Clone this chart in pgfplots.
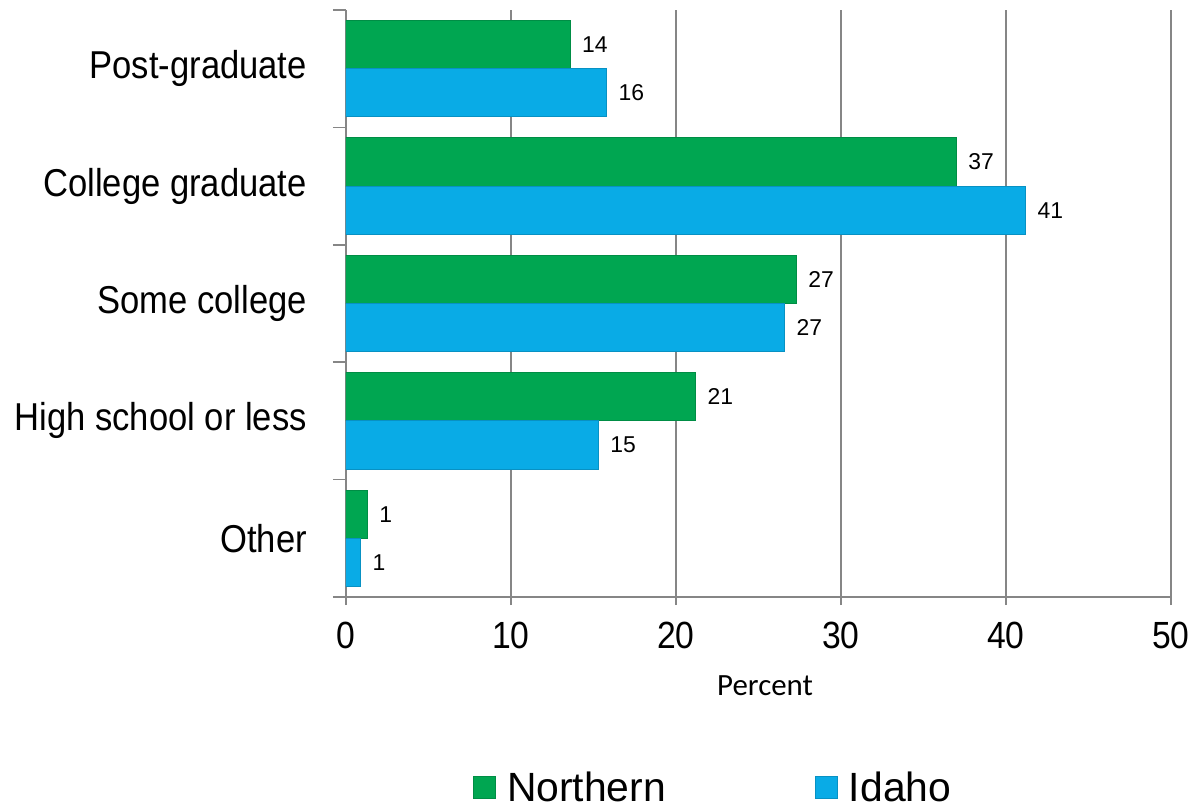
\documentclass[border=0pt]{standalone}
\usepackage{fontspec}
\setmainfont{Liberation Sans}
\newfontfamily\narrowsans[FakeStretch=0.89]{Liberation Sans}
\newfontfamily\calibri{Carlito}
\usepackage{pgfplots}
\usepackage{pgfplotstable}
\pgfplotsset{compat=1.18}

\definecolor{northern}{RGB}{0,166,81}
\definecolor{idaho}{RGB}{9,171,230}
\definecolor{gridgray}{RGB}{134,134,134}

% 0 = Other ... 4 = Post-graduate
\pgfplotstableread{
cat north idaho
0 1.3 0.9
1 21.2 15.3
2 27.3 26.6
3 37.0 41.2
4 13.6 15.8
}\edudata

\begin{document}
\begin{tikzpicture}
\begin{axis}[
    name=ax,
    scale only axis,
    width=825bp, height=587bp,
    xbar,
    bar width=0.41,
    xmin=0, xmax=50,
    ymin=-0.5, ymax=4.5,
    axis lines=left,
    axis line style={gridgray, line width=1.5bp, -},
    xtick={0,10,...,50},
    xmajorgrids,
    grid style={gridgray, line width=1.5bp},
    tick align=outside,
    major tick length=8bp,
    tick style={gridgray, line width=1.5bp},
    ytick={0,...,4},
    ytick style={draw=none},
    yticklabels={Other, High school or less, Some college, College graduate, Post-graduate},
    extra y ticks={-0.5,0.5,...,4.5},
    extra y tick labels={},
    extra y tick style={major tick length=13bp, ytick style={draw=gridgray}, grid=none},
    /pgf/number format/assume math mode=true,
    yticklabel style={font=\narrowsans\fontsize{39}{42}\selectfont, anchor=east, inner sep=0pt, xshift=-31bp},
    xticklabel style={font=\narrowsans\fontsize{38}{40}\selectfont, anchor=north, inner sep=0pt, yshift=-17bp},
    xlabel={Percent},
    xlabel style={font=\calibri\fontsize{31}{34}\selectfont, at={(axis description cs:0.508,0)}, anchor=center, yshift=-89bp},
    point meta=x,
    nodes near coords={\pgfmathprintnumber[fixed,precision=0]{\pgfplotspointmeta}},
    every node near coord/.append style={font=\fontsize{23}{25}\selectfont, text=black, anchor=west, xshift=8bp},
    legend image code/.code={\draw[#1] (0bp,-11bp) rectangle (22bp,11bp);},
    legend style={draw=none, at={(0.445,-0.325)}, anchor=center, legend columns=2,
        font=\fontsize{41}{45}\selectfont,
        /tikz/every odd column/.append style={column sep=9bp},
        /tikz/every even column/.append style={column sep=147bp}},
]
\addplot[fill=northern, draw=northern!85!black, line width=1bp, bar shift=0.205] table[x=north, y=cat] {\edudata};
\addplot[fill=idaho, draw=idaho!85!black, line width=1bp, bar shift=-0.205] table[x=idaho, y=cat] {\edudata};
\legend{Northern, Idaho}
\end{axis}
\pgfresetboundingbox
\path[use as bounding box] (ax.south west) ++(-346bp,-215bp) rectangle ++(1197bp,812bp);
\end{tikzpicture}
\end{document}
